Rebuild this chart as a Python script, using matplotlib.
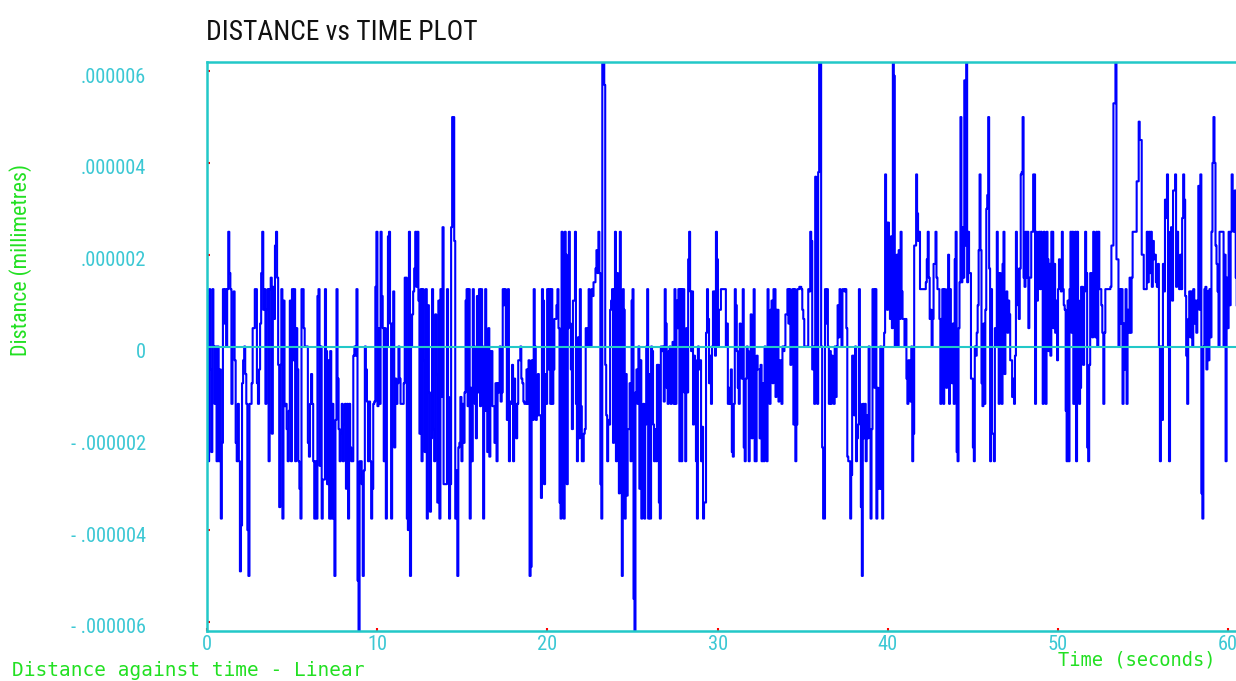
import numpy as np
import matplotlib
matplotlib.use("Agg")
import matplotlib.pyplot as plt
from matplotlib.transforms import ScaledTranslation
from matplotlib import font_manager as fm

# ---- data (values in micro-millimetres, i.e. x1e-6) ----
seg_a_span = (0.0, 6.8)
seg_a = [1.1, -2.5, 1.25, -0.5, -2.3, 1.25, 0, -1.25, 0, -2.5, 0, -2.5, -0.5, -3.75, -2.1, 1.25, 0.5, 1.25, 0, 1.25,
         2.5, 1.6, 1.25, -1.25, 0.1, 1.2, -0.3, -2.1, -2.5, -1.25, -2.5, -4.9, -3.9, -0.8, -0.3, 0, -0.6, -1.25, -4.0,
         -5.0, -1.25, -1.25, -0.8, 0.4, 0.4, 1.25, 1.25, -0.8, -1.25, -0.5, 0.5, 1.6, 2.5, 0.8, 1.25, -1.25, 0.8, 1.25,
         -2.5, 1.25, 1.5, -1.9, 1.3, 0.6, 2.2, 2.5, 1.5, -0.4, -3.5, -0.4, 1.25, -3.75, 1.0, -1.3, -1.25, -1.8, -2.5,
         -1.4, 1.0, -2.5, 1.25, -0.3, 1.25, -2.5, 0.4, -0.5, -2.5, -3.1, -3.75, 1.25, 1.25, 0.4, 0, 0, 0, -2.1, -2.4,
         -1.25, -0.6, -1.25, -2.5, -3.75, -2.5, -3.75, 1.1, 1.25, -2.6, 0, -3.75, -2.9]

seg_b_span = (6.93, 13.9)
seg_b = [1.25, -0.1, -3.0, -0.3, -3.75, -0.1, -3.75, -1.25, -3.75, -5.0, -1.6, 1.25, -0.7, -1.8, -2.5, -1.9, -1.25,
         -2.5, -1.7, -1.25, -3.1, -1.25, -3.75, -1.25, -2.2, -2.5, -2.5, -0.2, 0, -0.2, 1.25, -5.1, -6.25, -2.5, -2.5,
         -3.0, -5.0, -2.7, 0, -0.5, -1.2, -2.5, -1.2, -2.5, -3.75, -3.1, -1.25, -1.2, 1.3, 2.5, -1.3, 0.4, -1.25, 2.5,
         1.1, 0.4, -2.5, 0.4, -3.75, 0, 2.4, 2.5, 0.5, -3.75, 0.5, 1.2, -2.2, -0.7, -1.25, -0.8, 0, -0.7, -1.25, -1.25,
         -1.25, -0.8, 1.5, 1.5, -3.75, -4.0, 2.5, -5.0, 0, 0.7, 1.2, 1.7, 2.5, 1.3, 2.5, 1.0, -1.9, 1.25, -2.5, 1.25,
         -0.3, -2.3, 1.25, -3.75, 0.9, -1.0, -3.6, -2.0, 1.25, -1.8, -2.5, 0.7, -0.6, -3.4, 1.0, -3.75, 1.25, -1.1, 2.6,
         -3.0]

seg_c_span = (14.1, 21.5)
seg_c = [1.25, -1.1, -3.75, -3.0, 2.6, 5.0, 5.0, 2.3, -3.75, -2.7, -5.0, -2.2, -2.1, -1.1, -2.5, -1.25, -2.1, -1.0,
         1.0, 1.25, -1.3, 1.25, -3.75, -0.9, -2.5, 1.25, 0, -1.25, -2.0, 1.1, -1.0, 1.25, -1.3, 1.25, 0, -3.75, -1.4,
         1.25, -1.4, -2.3, 0.4, -2.4, -0.1, -0.1, -1.3, -1.3, -2.1, -0.8, -2.5, -0.8, -1.0, 0, -1.2, -1.0, 1.25, 0.9,
         1.25, 0, -1.6, 1.25, -2.5, -1.2, -1.25, -0.4, -2.5, -0.7, -1.25, -2.0, -1.25, -0.3, -0.3, 0, -0.7, -0.8, -1.2,
         -1.25, -1.25, -0.5, -1.25, -0.3, -5.0, -4.8, -0.3, -1.6, 1.25, 0, -1.6, -1.5, -0.6, -1.5, -1.5, -3.3, 1.25,
         1.0, -3.0, -0.6, -1.25, 1.25, -0.5, 1.25, -1.25, 1.25, -1.25, -0.5, 0.6, 0.6, 0.9, 1.25, 0.4, -3.4, -3.75,
         2.5, 2.0, -3.75, 2.5, 2.0, -3.0, 0.4, 2.5, 0.5, -0.5, -1.8, 1.0]

seg_d_span = (21.62, 28.9)
seg_d = [2.5, -1.25, -2.5, 0.2, -2.0, 1.25, -1.3, -2.5, -2.5, -1.9, -1.8, 0.4, 0.4, 0, 1.25, 0.9, 0, 1.25, 1.1, 1.4,
         1.4, 1.7, 2.1, 1.6, 2.5, 1.6, -3.0, -3.75, 6.25, 6.25, 5.7, -0.4, -1.5, -2.5, -1.6, -1.7, 0.8, 1.0, 1.25,
         -2.1, 1.25, 2.5, -2.5, 1.6, 0.9, -3.2, 2.5, -2.5, -5.0, 1.25, 0.8, -3.75, -0.6, -3.25, -1.8, -1.8, -0.8, -2.5,
         1.0, 1.25, -5.5, -6.25, -1.0, -0.5, -1.25, 0, -3.1, -0.3, -3.75, -2.5, -1.25, -3.75, -1.7, 0, 1.25, -3.75,
         -0.6, -3.75, 0, -0.1, -1.7, -2.5, -1.8, -2.5, -0.4, -0.4, -3.4, -3.75, 0, -0.1, 0, -1.2, 1.25, 0.5, -0.9,
         -1.25, -0.1, 0, -1.25, -0.1, 0.1, -1.25, 1.25, -1.25, 1.0, 0.4, 1.25, -2.5, 1.25, -2.5, 1.25, 1.25, -1.0,
         -2.5, 0.4, -1.0, 1.9, 2.5, 1.2, -0.1, 1.2, -1.7, -0.2, -0.3, -2.5, -3.75, 0, -0.5]

seg_e_span = (28.97, 36.2)
seg_e = [-0.3, -2.5, -1.75, -3.75, -3.4, -3.4, 0.3, 1.25, 0.6, -0.8, -0.2, -1.25, 0, 1.2, 1.2, -0.2, 2.5, 1.9, 0,
         0.8, 0.8, 1.25, 1.25, 1.25, 1.25, 1.25, 0, 0.5, -1.25, -0.9, -1.25, -0.5, -2.3, -2.4, -1.25, 1.25, 0.9, -0.1,
         -0.9, -1.25, 0.5, 0, -0.7, 1.25, -2.2, -2.5, -0.7, 0, -0.1, -2.5, -0.9, 0.7, -2.0, -1.25, 1.25, -2.5, -2.5,
         -0.2, -0.5, -0.5, -2.0, -0.4, -2.5, -0.8, -2.5, 0, -0.2, -2.5, 1.25, -0.2, -1.25, 0.8, 1.0, -0.8, 1.25, 1.25,
         -1.1, 0.8, 0.8, -1.2, -0.3, -0.3, -1.25, 0, -0.1, 0, 0.7, 0.7, 1.25, 0.5, 1.25, -0.4, 1.0, 1.25, -1.7, 1.25,
         -2.5, -1.7, 1.25, 1.25, 1.3, 1.3, 1.25, 0.8, 0.6, 0, 0, 0, 0, 1.25, 1.2, 2.5, 2.3, -0.5, 0, -1.25, 3.7, 2.5,
         -1.25, 3.8, 6.25, 6.25, 0, -2.2, -3.75]

seg_f_span = (36.31, 43.6)
seg_f = [1.25, 0.5, 1.25, 0, -1.25, -0.1, -1.25, -0.2, -1.0, -1.25, 0, -1.1, 0, 0.9, 0.2, 1.25, 1.0, 0, 1.25, 1.25,
         1.2, 1.25, 0.4, -2.4, -2.5, -2.5, -3.75, -2.8, -0.2, -0.2, -1.5, 0, -2.5, -2.0, -1.7, 1.25, -1.25, -3.5, -5.0,
         -1.25, -2.0, -1.25, -2.5, -1.5, -2.0, 0, -1.8, -3.75, -1.8, 1.25, 1.25, -0.9, 1.25, -3.75, -0.9, -3.1, -3.1,
         0, -3.1, -3.75, 0, 0.3, 3.75, 2.7, 0.8, 2.7, 1.6, 0.6, 2.4, 0.4, 6.25, 5.9, 0, 1.6, 2.0, 0, 2.1, 0.6, 2.5,
         1.2, 0.6, 0.6, 0, 0.6, -0.7, -1.25, -0.3, -0.3, -1.2, 0, -2.5, -1.9, 2.2, 2.2, 3.75, 2.9, 2.3, 2.5, 1.25,
         1.25, 1.25, 1.25, 1.25, 1.25, 1.4, 1.9, 2.5, 1.5, 0.6, 0.8, 0, 0.6, 1.8, 1.8, 2.5, 1.5, 1.25, 1.25, 0.6,
         -1.25, 0.6, 1.25, -1.25, 1.25, 0.8, -0.9, 1.25, 2.0, -1.25]

seg_g_span = (43.65, 50.9)
seg_g = [1.25, 0.4, -0.8, 0.5, -1.25, 1.9, 2.5, -2.3, -2.5, 0.4, 1.4, 5.0, 1.4, 2.6, 1.5, 5.8, 2.2, 6.25, 1.4, 2.5,
         1.6, 1.6, -0.7, -0.7, -2.2, -2.5, 0, -0.2, 0.3, 0.9, 2.1, 3.75, 2.1, -0.8, -1.3, 0.5, -1.25, 0.8, 3.0, 3.3,
         5.0, 1.7, -2.5, 1.25, -1.9, -1.9, -2.5, 0.4, 0, 2.5, 1.6, -1.25, 1.6, -0.8, -1.25, 1.8, 2.5, -0.6, 1.1, 1.2,
         0.3, 1.0, 0.7, -0.3, -0.3, -1.1, -0.7, -1.25, -0.2, 2.5, 1.7, 0.9, 0.6, 1.7, 3.75, 3.8, 5.0, 1.5, 1.3, 2.5,
         1.5, 2.5, 0.4, 1.5, 1.5, 2.5, 2.5, 3.75, 3.75, -1.25, 2.5, 1.0, 1.6, 2.5, 1.25, 2.5, 1.5, -1.25, 2.5, 1.8,
         -1.25, 2.5, 1.9, -0.1, 1.8, -0.2, 2.5, 2.5, 0.4, 1.8, 0.3, 1.0, -0.3, 1.25, 1.9, 1.8, 1.2, 2.5, 1.25, 0.9,
         0.8, -1.4, -2.5, 1.0, -2.5, 1.25, 2.5, 0.3, 2.5, -1.25]

seg_h_span = (51.0, 60.5)
seg_h = [2.5, -2.5, 2.5, 1.0, -1.25, -0.9, 1.3, 1.3, -0.4, 1.2, 2.5, 1.6, -2.2, -2.5, -0.4, 1.6, 1.6, 0.2, 2.5, 1.8,
         0.2, 2.5, 0, 2.5, 1.25, 1.25, 0.9, 0.3, -1.25, 0.3, 1.25, 1.25, 1.25, 1.25, 1.25, 1.3, 2.2, 2.2, 5.3, 5.3,
         6.25, 1.9, 1.9, 0, 1.25, 0.5, 1.25, -1.25, 0.5, -0.5, 1.25, -1.25, 0.8, 0.3, 1.5, 0.3, 1.5, 2.5, 2.5, 2.5,
         2.5, 3.6, 3.6, 4.9, 4.5, 4.5, 2.0, 2.0, 1.25, 1.25, 1.25, 2.5, 1.4, 2.5, 1.6, 2.5, 1.3, 2.3, 1.9, 2.0, 1.4,
         1.3, 1.8, 0, -2.5, 0, -1.6, 1.8, 1.2, 3.2, 2.8, 3.75, 0, -2.5, 2.5, 2.6, 1.0, 3.4, 3.4, 3.75, 1.3, 2.5, 1.5,
         1.25, 2.0, 1.25, 2.8, 3.75, 3.2, 1.1, -0.2, -1.25, 0.6, 1.2, 0.2, 1.2, 0, 1.25, 0.5, 1.0, 0.3, 1.0, 3.5, 0.8,
         3.75, -3.2, -3.75, 0, 1.25, 1.3, -0.5, 1.2, -0.3, 1.25, 0.2, 2.5, 4.0, 5.0, 4.0, 2.2, 1.8, 1.2, 0, 2.5, 2.5,
         2.5, 2.5, 0, 2.0, -2.5, 1.5, 0.4, 2.5, 0.9, 2.5, 3.75, 2.6, 2.5, 3.4, 1.5, 0.9]

segments = [(seg_a_span, seg_a), (seg_b_span, seg_b), (seg_c_span, seg_c), (seg_d_span, seg_d),
            (seg_e_span, seg_e), (seg_f_span, seg_f), (seg_g_span, seg_g), (seg_h_span, seg_h)]

x_ticks = [0, 10, 20, 30, 40, 50, 60]
y_ticks = [6e-6, 4e-6, 2e-6, 0, -2e-6, -4e-6, -6e-6]
y_tick_labels = ['.000006', '.000004', '.000002', '0', '- .000002', '- .000004', '- .000006']

title = "DISTANCE vs TIME PLOT"
y_label = "Distance (millimetres)"
x_label = "Time (seconds)"
footer = "Distance against time - Linear"

# ---- build series ----
t_parts, v_parts = [], []
for (t0, t1), vals in segments:
    t_parts.append(np.linspace(t0, t1, len(vals)))
    v_parts.append(np.array(vals, dtype=float) * 1e-6)
t = np.concatenate(t_parts)
v = np.concatenate(v_parts)


# ---- pick the narrowest font that is available ----
def pick_narrow():
    cands = [('Noto Sans', 'ultra-condensed', 'ultracondensed'),
             ('Noto Sans', 'extra-condensed', 'extracondensed'),
             ('Open Sans', 'extra-condensed', 'extracondensed'),
             ('Roboto', 'extra-condensed', 'extracondensed'),
             ('Liberation Sans Narrow', 'normal', 'narrow'),
             ('Roboto Condensed', 'normal', 'condensed'),
             ('Noto Sans', 'condensed', 'condensed'),
             ('Open Sans', 'condensed', 'condensed'),
             ('DejaVu Sans', 'condensed', 'condensed')]
    for fam, stretch, key in cands:
        try:
            p = fm.findfont(fm.FontProperties(family=fam, stretch=stretch),
                            fallback_to_default=False)
        except Exception:
            continue
        name = p.lower().replace('-', '').replace('_', '').replace(' ', '')
        if key in name:
            return fam, stretch
    return 'DejaVu Sans', 'normal'


nfam, nstretch = pick_narrow()

# ---- figure ----
W, H = 1236, 681
fig = plt.figure(figsize=(W / 100, H / 100), dpi=100)
fig.patch.set_facecolor('white')
renderer = fig.canvas.get_renderer()


def fit_size(text, target_w, start=20, **kw):
    tmp = fig.text(0, 0, text, fontsize=start, **kw)
    w = tmp.get_window_extent(renderer).width
    tmp.remove()
    return start * target_w / w


ax_l, ax_r, ax_t, ax_b = 207, 1245, 62, 631
ax = fig.add_axes([ax_l / W, 1 - ax_b / H, (ax_r - ax_l) / W, (ax_b - ax_t) / H])
ax.set_facecolor('white')

cyan = '#22C8C8'
lab_cyan = '#3CC8D4'
green = '#22E022'
nkw = dict(family=[nfam, 'DejaVu Sans'], stretch=nstretch)

ax.plot(t, v, color='#0000FF', lw=1.5, drawstyle='steps-post', zorder=2)
ax.axhline(0, color=cyan, lw=1.5, zorder=3)

ax.set_xlim(0, (ax_r - ax_l) / 17.02)
ax.set_ylim(-6.2e-6, 6.2e-6)

for s in ax.spines.values():
    s.set_color(cyan)
    s.set_linewidth(1.8)

tick_fs = min(fit_size('.000006', 66, **nkw), 19)

ax.set_xticks(x_ticks)
ax.set_xticklabels([str(x) for x in x_ticks])
ax.set_yticks(y_ticks)
ax.set_yticklabels(y_tick_labels)
ax.tick_params(axis='both', direction='in', length=2, width=1.5, color='red')
ax.tick_params(axis='y', pad=44, labelsize=tick_fs, labelcolor=lab_cyan)
ax.tick_params(axis='x', pad=3, labelsize=tick_fs, labelcolor=lab_cyan)
for lab in ax.get_yticklabels() + ax.get_xticklabels():
    lab.set_family([nfam, 'DejaVu Sans'])
    lab.set_stretch(nstretch)
off = ScaledTranslation(0, -4 / 100, fig.dpi_scale_trans)
for lab in ax.get_yticklabels():
    lab.set_transform(lab.get_transform() + off)

title_fs = min(fit_size(title, 272, **nkw), 30)
fig.text(206 / W, 1 - 33 / H, title, ha='left', va='center', fontsize=title_fs,
         color='#111111', **nkw)
ylab_fs = min(fit_size(y_label, 192, **nkw), 19)
fig.text(21 / W, 1 - 260 / H, y_label, rotation=90, ha='center', va='center',
         fontsize=ylab_fs, color=green, **nkw)
fig.text(12 / W, 1 - 670 / H, footer, ha='left', va='center', fontsize=14,
         family=['DejaVu Sans Mono'], color=green)
fig.text(1058 / W, 1 - 660 / H, x_label, ha='left', va='center', fontsize=13.5,
         family=['DejaVu Sans Mono'], color=green)

fig.savefig('out.png', dpi=100, facecolor='white')
